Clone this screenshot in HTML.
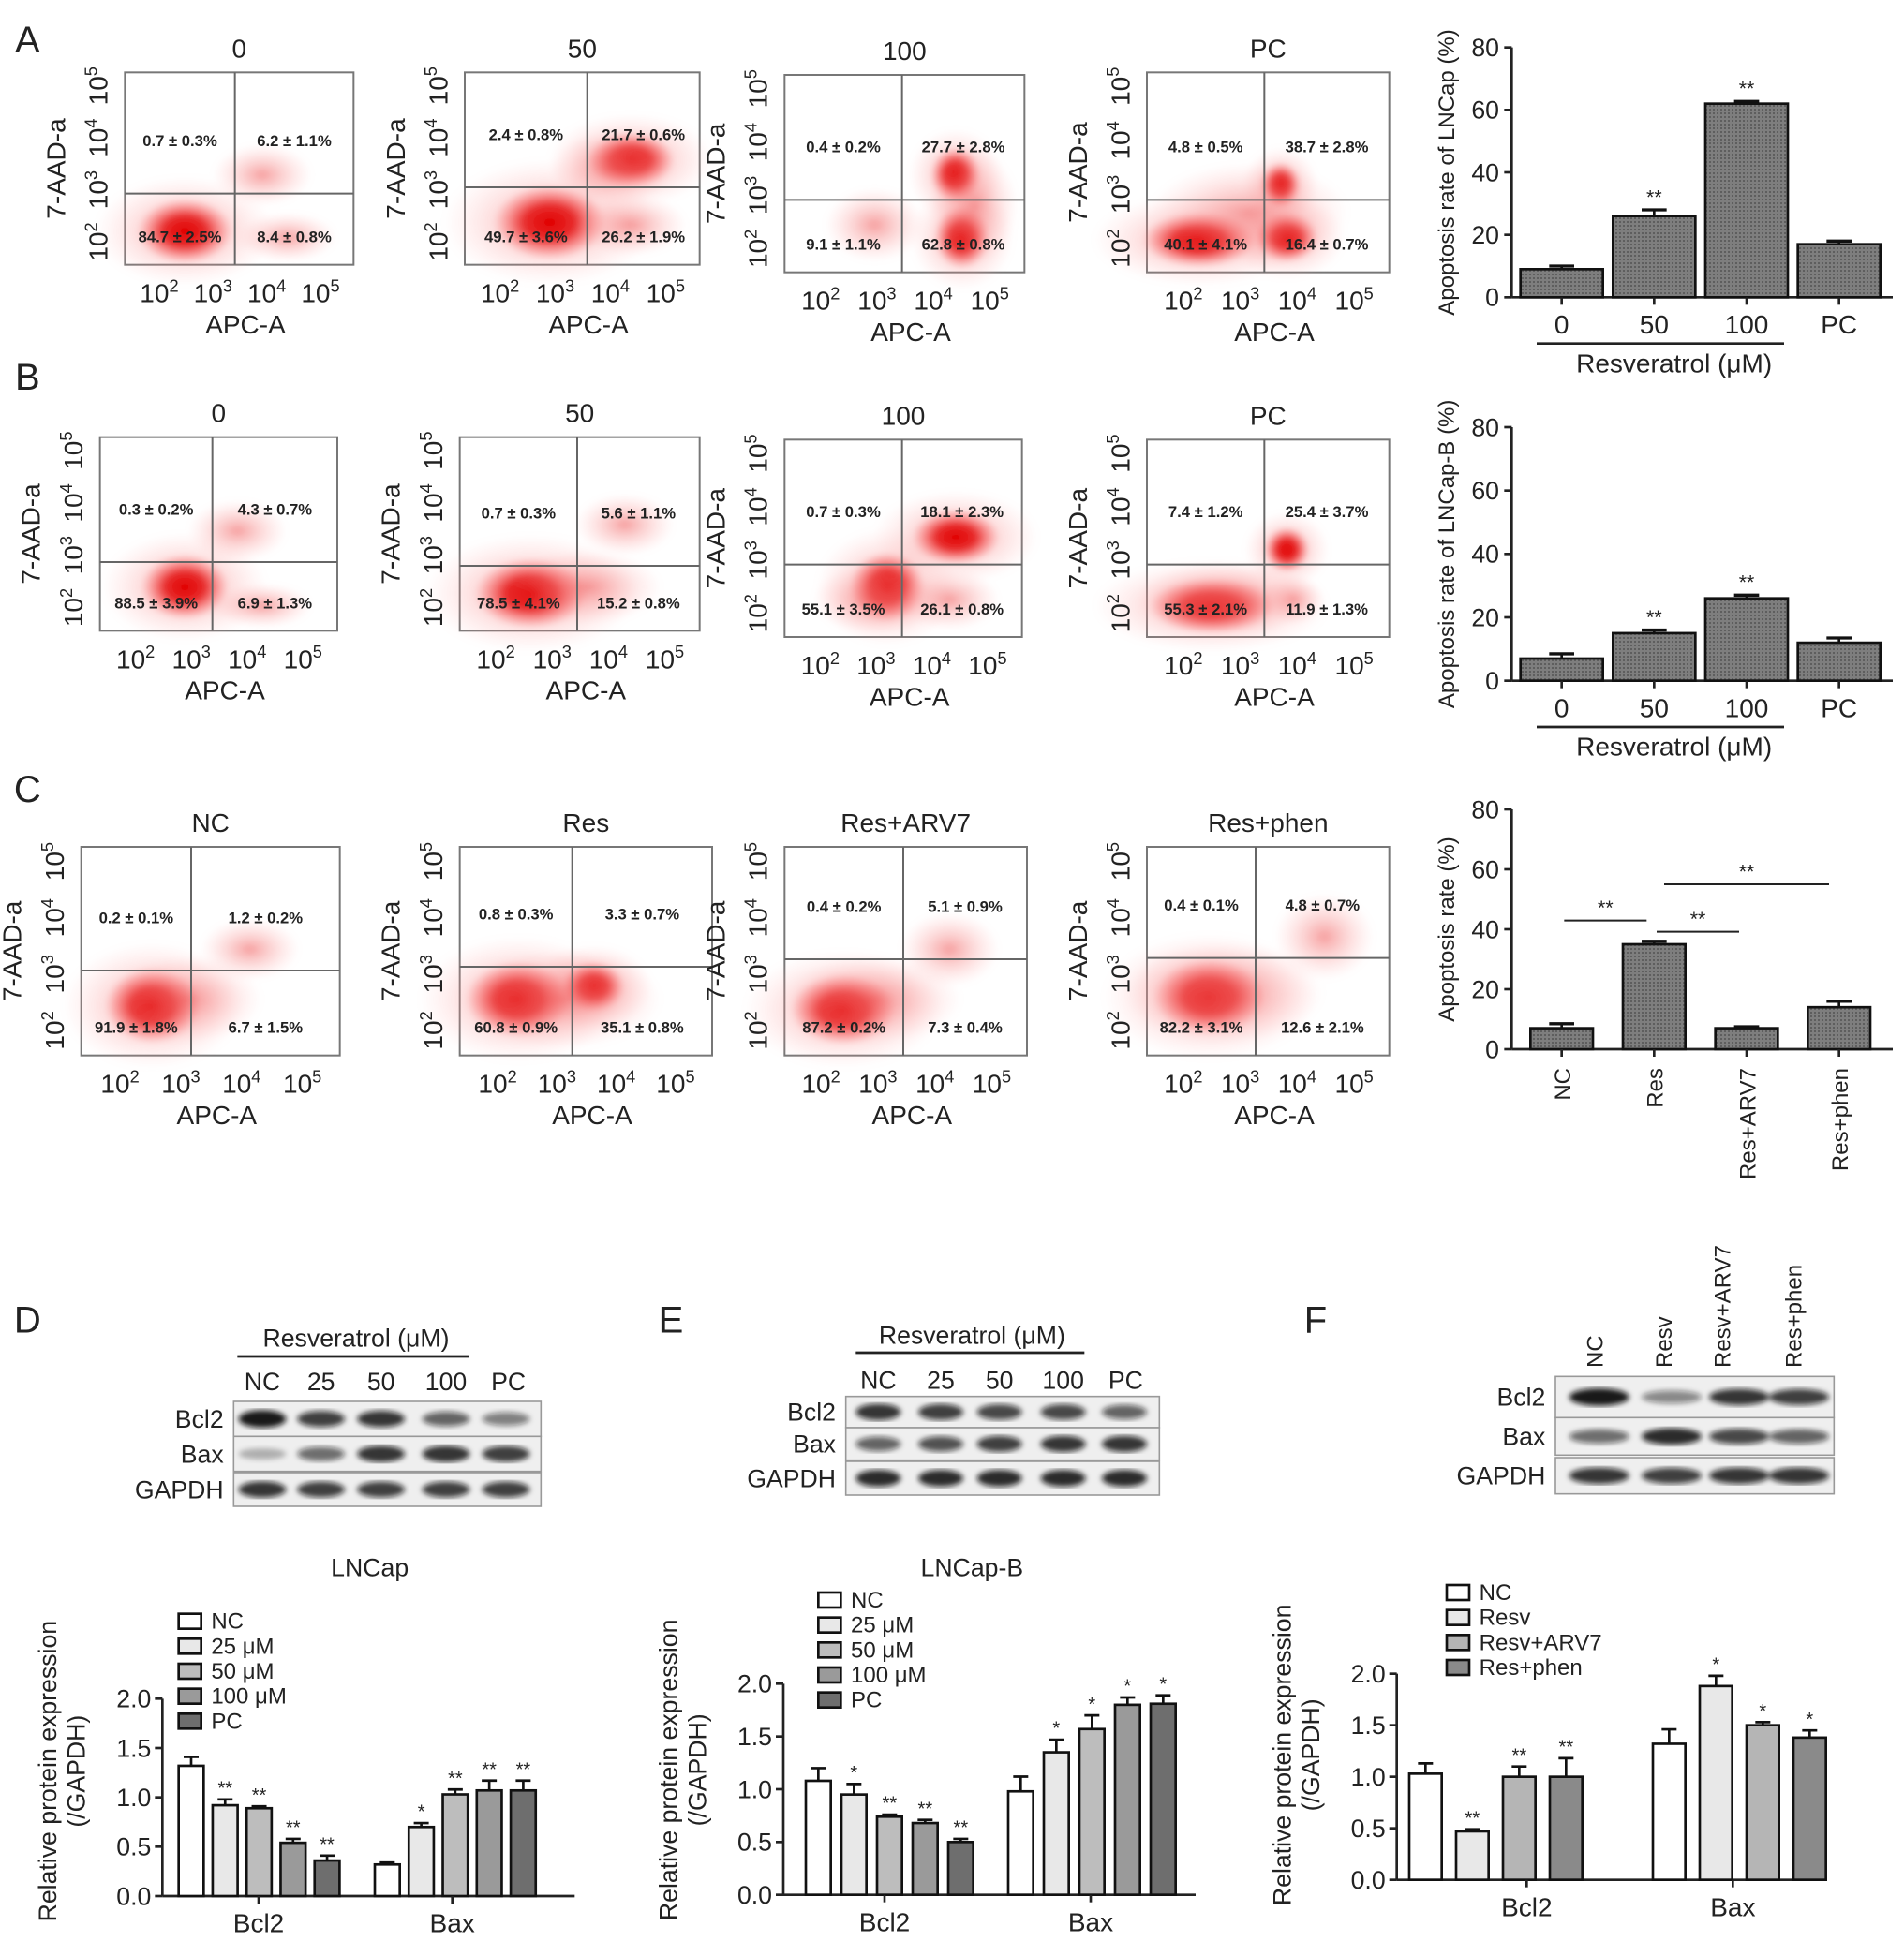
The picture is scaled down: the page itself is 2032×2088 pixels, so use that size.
<!DOCTYPE html>
<html><head><meta charset="utf-8"><style>
html,body{margin:0;padding:0;background:#fff}
svg{display:block}
text{font-family:"Liberation Sans",sans-serif;fill:#222}
</style></head><body>
<svg id="fig" width="2032" height="2088" viewBox="0 0 1524 1566" xmlns="http://www.w3.org/2000/svg">
<defs>
<pattern id="dots" width="3" height="3" patternUnits="userSpaceOnUse"><rect width="3" height="3" fill="#7e7e7e"/><rect width="1.5" height="1.5" fill="#5e5e5e"/></pattern>
<radialGradient id="cloud"><stop offset="0" stop-color="#e00000" stop-opacity="1"/><stop offset="0.45" stop-color="#e51515" stop-opacity="0.85"/><stop offset="1" stop-color="#ff6060" stop-opacity="0"/></radialGradient>
<radialGradient id="haze"><stop offset="0" stop-color="#f06060" stop-opacity="0.6"/><stop offset="1" stop-color="#ffb0b0" stop-opacity="0"/></radialGradient>
<filter id="blur"><feGaussianBlur stdDeviation="2.2"/></filter>
</defs>
<g id="root"></g>
</svg>
<script>
// ---------- data ----------
const barACats=["0","50","100","PC"];
const barAVals=[9,26,62,17];
const barAErr=[1,2,0.7,1];
const barASig=["","**","**",""];
const barBCats=["0","50","100","PC"];
const barBVals=[7,15,26,12];
const barBErr=[1.5,1,1,1.5];
const barBSig=["","**","**",""];
const barCCats=["NC","Res","Res+ARV7","Res+phen"];
const barCVals=[7,35,7,14];
const barCErr=[1.5,1,0.5,2];
const barTicks=[0,20,40,60,80];

const wbGroups=["Bcl2","Bax"];
const dSeries=["NC","25 μM","50 μM","100 μM","PC"];
const dBcl2=[1.32,0.92,0.89,0.54,0.36];
const dBax=[0.32,0.70,1.03,1.07,1.07];
const dBcl2Err=[0.09,0.06,0.02,0.04,0.05];
const dBaxErr=[0.02,0.04,0.05,0.1,0.1];
const dBcl2Sig=["","**","**","**","**"];
const dBaxSig=["","*","**","**","**"];
const eSeries=["NC","25 μM","50 μM","100 μM","PC"];
const eBcl2=[1.08,0.95,0.74,0.68,0.5];
const eBax=[0.98,1.35,1.57,1.8,1.81];
const eBcl2Err=[0.12,0.1,0.02,0.03,0.03];
const eBaxErr=[0.14,0.12,0.13,0.07,0.08];
const eBcl2Sig=["","*","**","**","**"];
const eBaxSig=["","*","*","*","*"];
const fSeries=["NC","Resv","Resv+ARV7","Res+phen"];
const fBcl2=[1.03,0.47,1.0,1.0];
const fBax=[1.32,1.88,1.5,1.38];
const fBcl2Err=[0.1,0.02,0.1,0.18];
const fBaxErr=[0.14,0.1,0.03,0.07];
const fBcl2Sig=["","**","**","**"];
const fBaxSig=["","*","*","*"];
const wbTicks=[0,0.5,1.0,1.5,2.0];
const greys5=["#ffffff","#e8e8e8","#bdbdbd","#9a9a9a","#6e6e6e"];
const greys4=["#ffffff","#e8e8e8","#b5b5b5","#8a8a8a"];

// flow quadrant percentages
const flowA=[["0",["0.7 ± 0.3%","6.2 ± 1.1%","84.7 ± 2.5%","8.4 ± 0.8%"]],["50",["2.4 ± 0.8%","21.7 ± 0.6%","49.7 ± 3.6%","26.2 ± 1.9%"]],["100",["0.4 ± 0.2%","27.7 ± 2.8%","9.1 ± 1.1%","62.8 ± 0.8%"]],["PC",["4.8 ± 0.5%","38.7 ± 2.8%","40.1 ± 4.1%","16.4 ± 0.7%"]]];
const flowB=[["0",["0.3 ± 0.2%","4.3 ± 0.7%","88.5 ± 3.9%","6.9 ± 1.3%"]],["50",["0.7 ± 0.3%","5.6 ± 1.1%","78.5 ± 4.1%","15.2 ± 0.8%"]],["100",["0.7 ± 0.3%","18.1 ± 2.3%","55.1 ± 3.5%","26.1 ± 0.8%"]],["PC",["7.4 ± 1.2%","25.4 ± 3.7%","55.3 ± 2.1%","11.9 ± 1.3%"]]];
const flowC=[["NC",["0.2 ± 0.1%","1.2 ± 0.2%","91.9 ± 1.8%","6.7 ± 1.5%"]],["Res",["0.8 ± 0.3%","3.3 ± 0.7%","60.8 ± 0.9%","35.1 ± 0.8%"]],["Res+ARV7",["0.4 ± 0.2%","5.1 ± 0.9%","87.2 ± 0.2%","7.3 ± 0.4%"]],["Res+phen",["0.4 ± 0.1%","4.8 ± 0.7%","82.2 ± 3.1%","12.6 ± 2.1%"]]];

// ---------- helpers ----------
const NS="http://www.w3.org/2000/svg";
const root=document.getElementById('root');
function el(tag,attrs,parent,txt){const e=document.createElementNS(NS,tag);for(const k in attrs)e.setAttribute(k,attrs[k]);if(txt!==undefined)e.textContent=txt;(parent||root).appendChild(e);return e;}
function grp(name,parent){const g=el('g',{},parent);


return g;}
function txt(g,x,y,s,size,anchor,extra){const t=el('text',Object.assign({x:x,y:y,'font-size':size,'text-anchor':anchor||'middle'},extra||{}),g,s);return t;}
function sup(g,x,y,exp,size,rot){
  const t=el('text',{x:x,y:y,'font-size':size,'text-anchor':'middle',transform:rot?`rotate(-90 ${x} ${y})`:''},g);
  el('tspan',{},t,'10');el('tspan',{dy:-size*0.4,'font-size':size*0.65},t,String(exp));return t;}

[["A",22,42],["B",22,312],["C",22,642],["D",22,1067],["E",537,1067],["F",1053,1067]].forEach(p=>{
  const g=grp('panel-label-'+p[0].toLowerCase());txt(g,p[1],p[2],p[0],30,'middle');});

// ---------- flow plots ----------
function flow(name,title,b,q,clouds,labels){
  const g=grp(name);
  const [x0,y0,x1,y1]=b,[qx,qy]=q;
  txt(g,(x0+x1)/2,y0-12,title,21);
  el('rect',{x:x0,y:y0,width:x1-x0,height:y1-y0,fill:'#fff',stroke:'#777','stroke-width':1.5},g);
  const cg=el('g',{filter:'url(#blur)'},g);
  clouds.forEach(c=>{ if(!c[4]) el('ellipse',{cx:c[0],cy:c[1],rx:c[2]*1.9,ry:c[3]*1.7,fill:'url(#haze)'},cg);});
  clouds.forEach(c=>{el('ellipse',{cx:c[0],cy:c[1],rx:c[2],ry:c[3],fill:c[4]?'url(#haze)':'url(#cloud)'},cg);});
  el('line',{x1:qx,y1:y0,x2:qx,y2:y1,stroke:'#666','stroke-width':1.5},g);
  el('line',{x1:x0,y1:qy,x2:x1,y2:qy,stroke:'#666','stroke-width':1.5},g);
  const lf={'font-family':'Liberation Serif','font-weight':'bold'};
  txt(g,(x0+qx)/2,qy-38,labels[0],12.5,'middle',lf);
  txt(g,(qx+x1)/2,qy-38,labels[1],12.5,'middle',lf);
  txt(g,(x0+qx)/2,y1-18,labels[2],12.5,'middle',lf);
  txt(g,(qx+x1)/2,y1-18,labels[3],12.5,'middle',lf);
  const w=x1-x0;
  [2,3,4,5].forEach((e,i)=>sup(g,x0+w*(0.15+i*0.235),y1+30,e,21,false));
  txt(g,(x0+x1)/2+5,y1+55,'APC-A',21);
  const h=y1-y0;
  [2,3,4,5].forEach((e,i)=>sup(g,x0-14,y1-h*(0.12+i*0.27),e,21,true));
  const ty=(y0+y1)/2;txt(g,x0-48,ty,'7-AAD-a',21,'middle',{transform:`rotate(-90 ${x0-48} ${ty})`});
}
flow('flow-a-0',flowA[0][0],[100,58,283,212],[188,155],[[148,185,38,26],[210,140,40,25,1],[230,190,40,20,1]],flowA[0][1]);
flow('flow-a-50',flowA[1][0],[372,58,560,212],[470,150],[[440,178,45,30],[505,128,35,22],[505,180,45,25,1],[490,135,50,30,1]],flowA[1][1]);
flow('flow-a-100',flowA[2][0],[628,60,820,218],[722,160],[[765,140,20,22],[770,190,22,25],[700,180,40,30,1],[780,165,35,45,1]],flowA[2][1]);
flow('flow-a-pc',flowA[3][0],[918,58,1112,218],[1012,160],[[1025,148,16,18],[960,192,45,22],[1030,190,25,20],[1000,170,80,40,1]],flowA[3][1]);
flow('flow-b-0',flowB[0][0],[80,350,270,505],[170,450],[[148,470,35,26],[190,425,40,25,1],[210,485,40,18,1]],flowB[0][1]);
flow('flow-b-50',flowB[1][0],[368,350,560,505],[462,453],[[425,475,45,28],[470,470,60,30,1],[500,420,40,25,1]],flowB[1][1]);
flow('flow-b-100',flowB[2][0],[628,352,818,510],[722,452],[[710,470,30,28],[765,430,35,22],[760,480,40,25,1],[700,480,50,28,1]],flowB[2][1]);
flow('flow-b-pc',flowB[3][0],[918,352,1112,510],[1012,452],[[1030,440,18,18],[970,485,50,22],[1035,480,25,20,1],[980,480,70,30,1]],flowB[3][1]);
flow('flow-c-nc',flowC[0][0],[65,678,272,845],[153,777],[[122,805,38,30],[150,800,60,35,1],[200,760,40,25,1]],flowC[0][1]);
flow('flow-c-res',flowC[1][0],[368,678,570,845],[458,774],[[415,800,42,30],[475,790,25,20],[450,800,80,40,1]],flowC[1][1]);
flow('flow-c-res-arv7',flowC[2][0],[628,678,822,845],[723,768],[[675,808,42,28],[700,800,70,35,1],[760,760,40,30,1]],flowC[2][1]);
flow('flow-c-res-phen',flowC[3][0],[918,678,1112,845],[1005,767],[[968,798,45,30],[980,795,80,40,1],[1060,750,40,35,1]],flowC[3][1]);

// ---------- apoptosis bar charts ----------
function apoBar(name,cats,vals,errs,sig,ax,y0,y80,bw,ylab,opts){
  const g=grp(name);
  const ys=v=>y0-(v/80)*(y0-y80);
  const xs=i=>ax+40+i*74;
  el('line',{x1:ax,y1:y80,x2:ax,y2:y0,stroke:'#222','stroke-width':2},g);
  el('line',{x1:ax,y1:y0,x2:ax+305,y2:y0,stroke:'#222','stroke-width':2},g);
  barTicks.forEach(t=>{el('line',{x1:ax-6,y1:ys(t),x2:ax,y2:ys(t),stroke:'#222','stroke-width':2},g);txt(g,ax-10,ys(t)+7,String(t),20,'end');});
  const ly=(y0+y80)/2;txt(g,ax-46,ly,ylab,18,'middle',{transform:`rotate(-90 ${ax-46} ${ly})`});
  vals.forEach((v,i)=>{
    const x=xs(i);
    el('line',{x1:x,y1:ys(v),x2:x,y2:ys(v+errs[i]),stroke:'#111','stroke-width':2},g);
    el('line',{x1:x-10,y1:ys(v+errs[i]),x2:x+10,y2:ys(v+errs[i]),stroke:'#111','stroke-width':2.5},g);
    const r=el('rect',{x:x-bw/2,y:ys(v),width:bw,height:y0-ys(v),fill:'url(#dots)',stroke:'#111','stroke-width':2},g);
    
    
    el('line',{x1:x,y1:y0,x2:x,y2:y0+6,stroke:'#222','stroke-width':2},g);
    if(sig&&sig[i])txt(g,x,ys(v+errs[i])-5,sig[i],16);
    if(opts.rot){txt(g,x+7,y0+15,cats[i],18,'end',{transform:`rotate(-90 ${x+7} ${y0+15})`});}
    else txt(g,x,y0+29,cats[i],21);
  });
  if(!opts.rot){
    el('line',{x1:ax+20,y1:y0+37,x2:ax+218,y2:y0+37,stroke:'#222','stroke-width':2},g);
    txt(g,ax+130,y0+60,'Resveratrol (μM)',21);
  }
  return {g,ys,xs};
}
apoBar('bar-chart-a',barACats,barAVals,barAErr,barASig,1210,238,38,66,'Apoptosis rate of LNCap (%)',{});
apoBar('bar-chart-b',barBCats,barBVals,barBErr,barBSig,1210,545,342,66,'Apoptosis rate of LNCap-B (%)',{});
const cc=apoBar('bar-chart-c',barCCats,barCVals,barCErr,null,1210,840,648,50,'Apoptosis rate (%)',{rot:true});
[[0,1,737],[1,2,746],[1,3,708]].forEach(s=>{
  const g=grp('significance-'+s[0]+'-'+s[1]);
  const xa=cc.xs(s[0])+(s[0]===1&&s[1]===3?8:2),xb=cc.xs(s[1])-(s[1]===3?8:6);
  el('line',{x1:xa,y1:s[2],x2:xb,y2:s[2],stroke:'#222','stroke-width':1.5},g);
  txt(g,(xa+xb)/2,s[2]-5,'**',16);
});

// ---------- western blots ----------
function blot(name,box,rowsY,lanesX,rowLabels,intens,bw){
  const g=grp(name);
  rowsY.forEach((r,ri)=>{
    el('rect',{x:box[0],y:r[0],width:box[1]-box[0],height:r[1]-r[0],fill:'#efefef',stroke:'#999','stroke-width':1.2},g);
    txt(g,box[0]-8,(r[0]+r[1])/2+7,rowLabels[ri],20,'end');
    const bg=el('g',{filter:'url(#blur)'},g);
    lanesX.forEach((x,li)=>{const a=intens[ri][li];
      el('ellipse',{cx:x,cy:(r[0]+r[1])/2,rx:bw,ry:4+3*a,fill:'#111','fill-opacity':0.15+0.8*a},bg);});
  });
  return g;
}
(function(){const g=grp('blot-d-header');
 txt(g,285,1078,'Resveratrol (μM)',20);el('line',{x1:190,y1:1086,x2:375,y2:1086,stroke:'#222','stroke-width':2},g);
 ["NC","25","50","100","PC"].forEach((s,i)=>txt(g,[210,257,305,357,407][i],1113,s,20));})();
blot('blot-d',[187,433],[[1122,1150],[1150,1178],[1179,1206]],[210,257,305,357,405],["Bcl2","Bax","GAPDH"],[[1,0.8,0.85,0.6,0.45],[0.15,0.55,0.85,0.85,0.8],[0.85,0.8,0.8,0.8,0.8]],19);
(function(){const g=grp('blot-e-header');
 txt(g,778,1076,'Resveratrol (μM)',20);el('line',{x1:685,y1:1083,x2:868,y2:1083,stroke:'#222','stroke-width':2},g);
 ["NC","25","50","100","PC"].forEach((s,i)=>txt(g,[703,753,800,851,901][i],1112,s,20));})();
blot('blot-e',[677,928],[[1118,1143],[1143,1169],[1170,1197]],[703,753,800,851,900],["Bcl2","Bax","GAPDH"],[[0.85,0.8,0.75,0.75,0.6],[0.6,0.7,0.8,0.85,0.85],[0.9,0.9,0.9,0.9,0.9]],18);
(function(){const g=grp('blot-f-header');
 [["NC",1283],["Resv",1338],["Resv+ARV7",1385],["Res+phen",1442]].forEach(s=>txt(g,s[1],1095,s[0],18,'start',{transform:`rotate(-90 ${s[1]} 1095)`}));})();
blot('blot-f',[1245,1468],[[1102,1135],[1135,1165],[1167,1196]],[1280,1338,1392,1440],["Bcl2","Bax","GAPDH"],[[1,0.4,0.85,0.8],[0.55,0.9,0.75,0.6],[0.85,0.8,0.85,0.85]],24);

// ---------- WB quantification charts ----------
function wbChart(name,title,series,colors,bcl,bax,bclE,baxE,bclS,baxS,ax,y0,y2,bxs,bw,leg,grpX){
  const g=grp(name);
  const ys=v=>y0-(v/2)*(y0-y2);
  if(title)txt(g,title[1],title[2],title[0],20);
  el('line',{x1:ax,y1:y2,x2:ax,y2:y0,stroke:'#222','stroke-width':2},g);
  el('line',{x1:ax,y1:y0,x2:ax+330,y2:y0,stroke:'#222','stroke-width':2},g);
  wbTicks.forEach(t=>{el('line',{x1:ax-6,y1:ys(t),x2:ax,y2:ys(t),stroke:'#222','stroke-width':2},g);txt(g,ax-9,ys(t)+7,t.toFixed(1),20,'end');});
  const ly=y0-100;
  txt(g,ax-85,ly,'Relative protein expression',20,'middle',{transform:`rotate(-90 ${ax-85} ${ly})`});
  txt(g,ax-62,ly,'(/GAPDH)',20,'middle',{transform:`rotate(-90 ${ax-62} ${ly})`});
  [[bcl,bclE,bclS,0],[bax,baxE,baxS,1]].forEach(set=>{
    set[0].forEach((v,i)=>{
      const x=bxs[set[3]]+i*bw.step;
      el('line',{x1:x,y1:ys(v),x2:x,y2:ys(v+set[1][i]),stroke:'#111','stroke-width':2},g);
      el('line',{x1:x-6,y1:ys(v+set[1][i]),x2:x+6,y2:ys(v+set[1][i]),stroke:'#111','stroke-width':2},g);
      const r=el('rect',{x:x-bw.w/2,y:ys(v),width:bw.w,height:y0-ys(v),fill:colors[i],stroke:'#111','stroke-width':2},g);
      
      
      if(set[2][i])txt(g,x,ys(v+set[1][i])-4,set[2][i],15);
    });
    const gx=grpX[set[3]];
    el('line',{x1:gx,y1:y0,x2:gx,y2:y0+6,stroke:'#222','stroke-width':2},g);
    txt(g,gx,y0+29,wbGroups[set[3]],21);
  });
  series.forEach((s,i)=>{
    const lg=grp('legend-entry-'+i,g);
    el('rect',{x:leg[0],y:leg[1]+i*20-12,width:18,height:12,fill:colors[i],stroke:'#111','stroke-width':2},lg);
    txt(lg,leg[0]+26,leg[1]+i*20,s,18,'start');
  });
}
wbChart('wb-chart-d',['LNCap',296,1262],dSeries,greys5,dBcl2,dBax,dBcl2Err,dBaxErr,dBcl2Sig,dBaxSig,130,1518,1360,[153,310],{w:20,step:27.2},[143,1304],[207,362]);
wbChart('wb-chart-e',['LNCap-B',778,1262],eSeries,greys5,eBcl2,eBax,eBcl2Err,eBaxErr,eBcl2Sig,eBaxSig,627,1517,1348,[655,817],{w:20,step:28.5},[655,1287],[708,873]);
wbChart('wb-chart-f',null,fSeries,greys4,fBcl2,fBax,fBcl2Err,fBaxErr,fBcl2Sig,fBaxSig,1118,1505,1340,[1141,1336],{w:26,step:37.5},[1158,1281],[1222,1387]);
</script>
</body></html>
